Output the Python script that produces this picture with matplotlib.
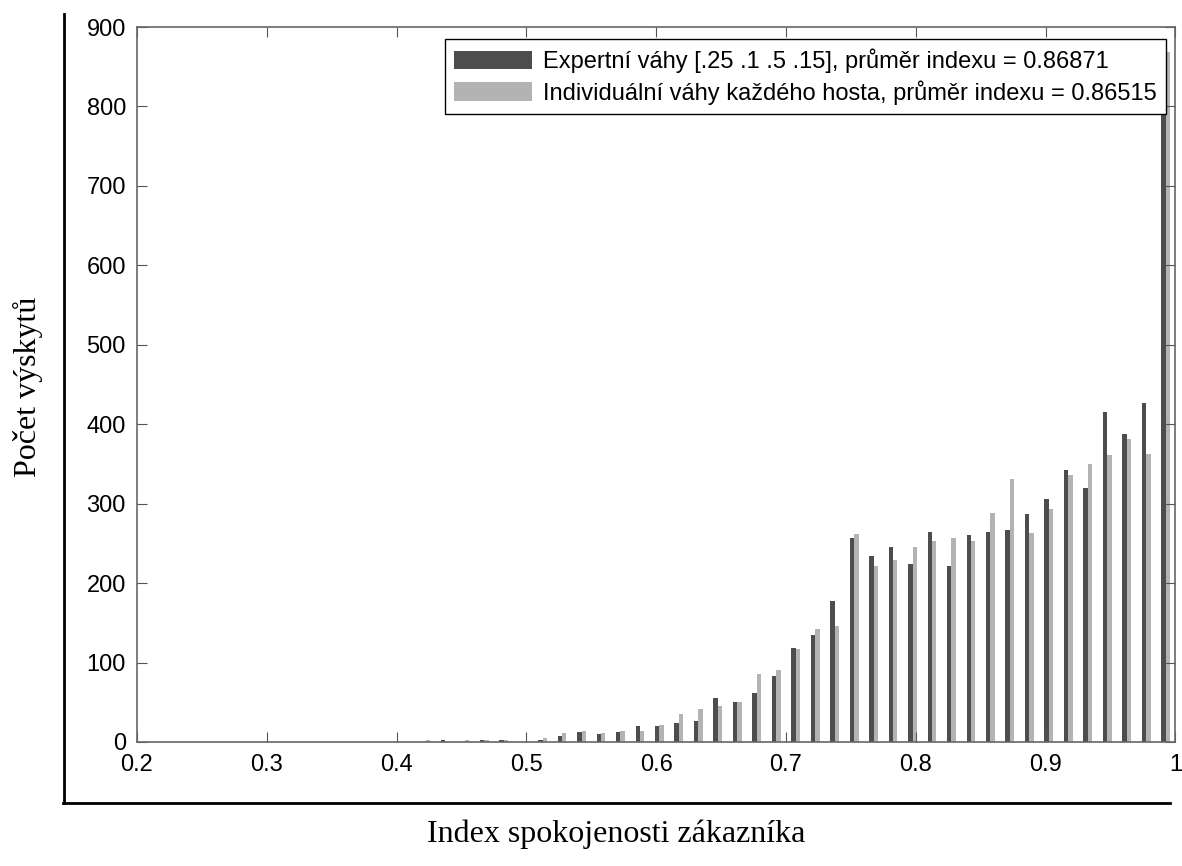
import matplotlib.pyplot as plt
from matplotlib.lines import Line2D
import numpy as np

# histogram bins (40 bins between 0.4 and 1.0)
bin_centers = np.linspace(0.4075, 0.9925, 40)

expert = [0, 0, 3, 0, 3, 3, 0, 3, 7, 13,
          10, 13, 20, 20, 24, 27, 55, 50, 62, 83,
          118, 135, 177, 257, 234, 245, 224, 264, 222, 260,
          264, 267, 287, 306, 343, 320, 416, 388, 427, 850]
individual = [0, 3, 0, 2, 3, 3, 0, 5, 11, 14,
              11, 14, 14, 22, 35, 41, 45, 50, 86, 90,
              117, 142, 146, 262, 222, 229, 245, 253, 257, 253,
              288, 331, 263, 293, 336, 350, 361, 381, 362, 869]

labels = ["Expertní váhy [.25 .1 .5 .15], průměr indexu = 0.86871",
          "Individuální váhy každého hosta, průměr indexu = 0.86515"]
xticks = [0.2, 0.3, 0.4, 0.5, 0.6, 0.7, 0.8, 0.9, 1.0]
xticklabels = ["0.2", "0.3", "0.4", "0.5", "0.6", "0.7", "0.8", "0.9", "1"]
yticks = [0, 100, 200, 300, 400, 500, 600, 700, 800, 900]

fig = plt.figure(figsize=(11.82, 8.66), dpi=100)
ax = fig.add_axes([0.1159, 0.1432, 0.8785, 0.8256])

w = 0.0034
ax.bar(bin_centers - w / 2, expert, width=w, color="#4d4d4d", label=labels[0])
ax.bar(bin_centers + w / 2, individual, width=w, color="#b3b3b3", label=labels[1])

ax.set_xlim(0.2, 1.0)
ax.set_ylim(0, 900)
ax.set_xticks(xticks)
ax.set_xticklabels(xticklabels, family="Liberation Sans", fontsize=17)
ax.set_yticks(yticks)
ax.set_yticklabels([str(t) for t in yticks], family="Liberation Sans", fontsize=17)
ax.tick_params(direction="in", length=7, top=True, right=True, color="#555555")
ax.tick_params(axis="x", pad=9)
ax.tick_params(axis="y", pad=8)
for s in ax.spines.values():
    s.set_color("#666666")
    s.set_linewidth(1.2)

leg = ax.legend(loc="upper right", bbox_to_anchor=(0.9909, 0.983), borderaxespad=0,
                prop={"family": "Liberation Sans", "size": 17}, fancybox=False,
                framealpha=1, edgecolor="black", handlelength=3.3, handleheight=0.85,
                handletextpad=0.45, labelspacing=0.3, borderpad=0.4)
leg.get_frame().set_linewidth(1.0)

fig.text(0.521, 0.037, "Index spokojenosti zákazníka", family="Liberation Serif",
         fontsize=23, ha="center", va="center")
fig.text(0.024, 0.553, "Počet výskytů", family="Liberation Serif",
         fontsize=23, ha="center", va="center", rotation=90)

# outer frame lines
fig.add_artist(Line2D([0.054, 0.054], [0.073, 0.984], color="black", lw=2))
fig.add_artist(Line2D([0.053, 0.99], [0.073, 0.073], color="black", lw=2))

fig.savefig("out.png", dpi=100)
